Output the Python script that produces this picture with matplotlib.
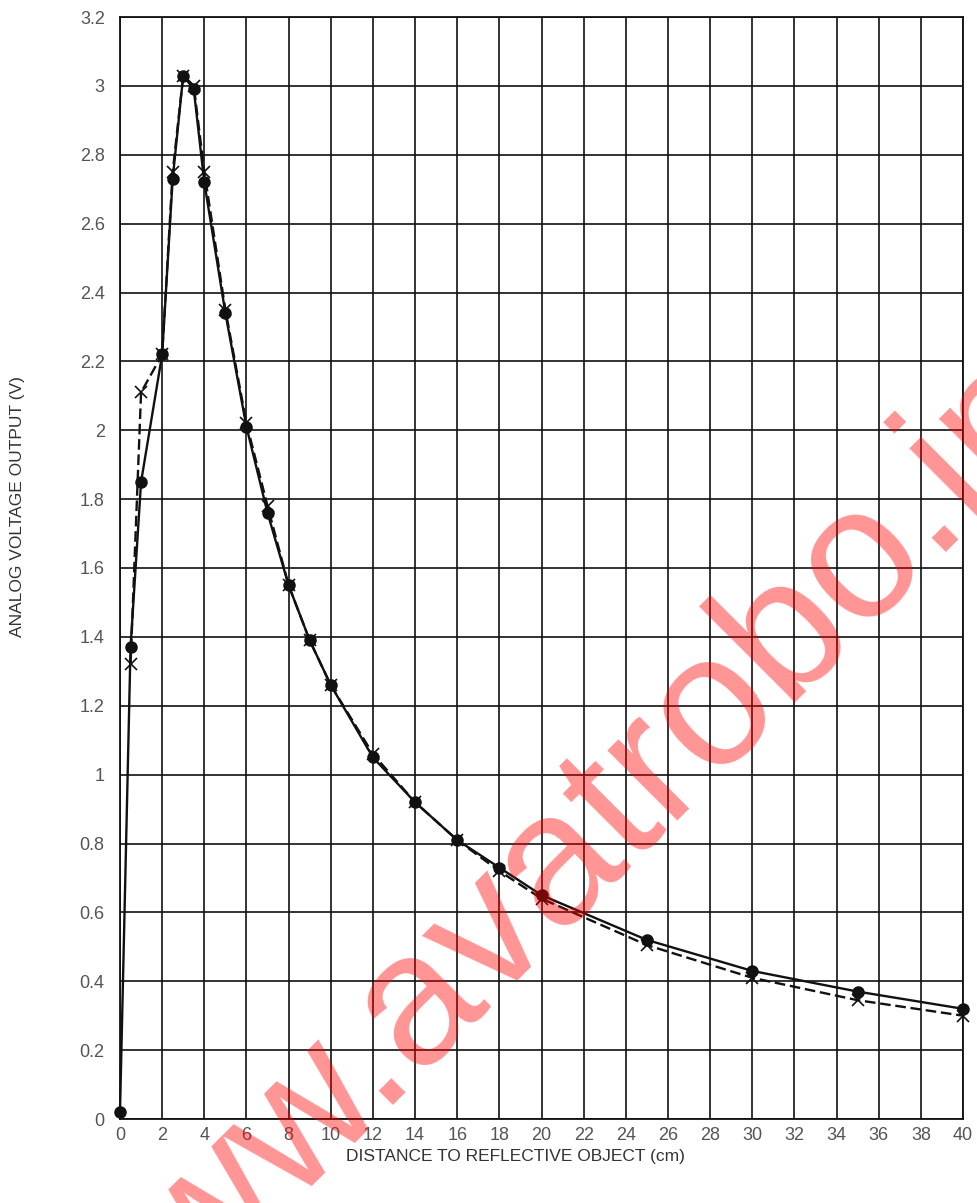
import matplotlib
matplotlib.use("Agg")
import matplotlib.pyplot as plt
import numpy as np

plt.rcParams['font.family'] = ['Liberation Sans', 'DejaVu Sans']

# distance (cm) and output (V)
dist_a = [0, 0.5, 1, 2, 2.5, 3, 3.5, 4, 5, 6, 7, 8, 9, 10, 12, 14, 16, 18, 20, 25, 30, 35, 40]
volt_a = [0.02, 1.37, 1.85, 2.22, 2.73, 3.03, 2.99, 2.72, 2.34, 2.01, 1.76, 1.55, 1.39, 1.26,
          1.05, 0.92, 0.81, 0.73, 0.65, 0.52, 0.43, 0.37, 0.32]

dist_b = [0.5, 1, 2, 2.5, 3, 3.5, 4, 5, 6, 7, 8, 9, 10, 12, 14, 16, 18, 20, 25, 30, 35, 40]
volt_b = [1.32, 2.11, 2.22, 2.75, 3.03, 3.0, 2.75, 2.35, 2.02, 1.78, 1.55, 1.39, 1.26,
          1.06, 0.92, 0.81, 0.72, 0.64, 0.505, 0.41, 0.345, 0.30]

xticks = np.arange(0, 41, 2)
yticks = np.round(np.arange(0, 3.21, 0.2), 1)

fig = plt.figure(figsize=(9.77, 12.03), dpi=100)
ax = fig.add_axes([120/977, 1 - 1119/1203, (963 - 120)/977, (1119 - 17)/1203])

ax.set_xlim(0, 40)
ax.set_ylim(0, 3.2)
ax.set_xticks(xticks)
ax.set_yticks(yticks)
ax.set_xticklabels([str(int(v)) for v in xticks])
ax.set_yticklabels(['%g' % v for v in yticks])
ax.grid(True, color='#111111', linewidth=1.2)
ax.set_axisbelow(True)
for s in ax.spines.values():
    s.set_color('#111111')
    s.set_linewidth(1.3)
ax.tick_params(length=0, labelsize=13, labelcolor='#555555')
ax.tick_params(axis='y', pad=11)
ax.tick_params(axis='x', pad=6)

ax.plot(dist_b, volt_b, color='#111111', linestyle=(0, (4.5, 2)), linewidth=1.7,
        marker='x', markersize=8, markeredgewidth=1.2, clip_on=False, zorder=3)
ax.plot(dist_a, volt_a, color='#111111', linestyle='-', linewidth=1.7,
        marker='o', markersize=8, clip_on=False, zorder=4)

fig.text(515/977, 1 - 1157/1203, 'DISTANCE TO REFLECTIVE OBJECT (cm)',
         ha='center', va='center', fontsize=12.5, color='#333333')
fig.text(18/977, 1 - 507/1203, 'ANALOG VOLTAGE OUTPUT (V)', rotation=90,
         ha='center', va='center', fontsize=12.5, color='#333333')

# watermark
fig.text(588/977, 1 - 910/1203, 'www.avatrobo.in', rotation=45, rotation_mode='anchor',
         ha='center', va='baseline', fontsize=135,
         color='red', alpha=0.42, zorder=10)

fig.savefig('out.png', dpi=100)
